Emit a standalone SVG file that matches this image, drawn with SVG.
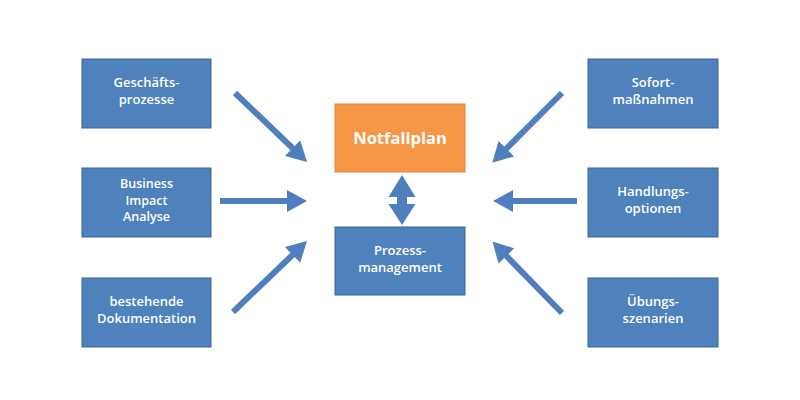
<svg xmlns="http://www.w3.org/2000/svg" width="800" height="400" viewBox="0 0 800 400">
<style>
.box{fill:#4f81bd;stroke:#3b6496;stroke-width:1}
.orange{fill:#f79646;stroke:#e9873a;stroke-width:1}
.t{font-family:"Open Sans","Noto Sans","Liberation Sans",sans-serif;font-weight:600;font-size:13px;fill:#ffffff;text-anchor:middle}
.t3{font-size:12.5px}
.big{font-family:"Open Sans","Noto Sans","Liberation Sans",sans-serif;font-weight:700;font-size:16.5px;fill:#ffffff;text-anchor:middle}
.arr{stroke:#4f7fbf;stroke-width:6;fill:none;marker-end:url(#head)}
</style>
<defs>
<marker id="head" viewBox="0 0 20 22" refX="2" refY="11" markerWidth="20" markerHeight="22" markerUnits="userSpaceOnUse" orient="auto">
<path d="M0,0 L20,11 L0,22 z" fill="#4f7fbf"/>
</marker>
</defs>
<rect width="800" height="400" fill="#ffffff"/>
<g id="connectors">
<line class="arr" x1="235" y1="93" x2="294" y2="149.5"/>
<line class="arr" x1="220" y1="201" x2="289" y2="201"/>
<line class="arr" x1="233" y1="312" x2="294" y2="253.5"/>
<line class="arr" x1="562" y1="93" x2="505" y2="150"/>
<line class="arr" x1="577" y1="201" x2="511" y2="201"/>
<line class="arr" x1="562" y1="313" x2="505" y2="254.5"/>
<polygon points="402,175 415.5,197 407,197 407,204 415.5,204 402,225 388.5,204 397,204 397,197 388.5,197" fill="#4f7fbf"/>
</g>
<g id="geschaeftsprozesse">
<rect class="box" x="82" y="59" width="129" height="69"/>
<text class="t" x="146.5" y="87">Geschäfts-</text>
<text class="t" x="146.5" y="104">prozesse</text>
</g>
<g id="bia">
<rect class="box" x="82" y="168" width="129" height="69"/>
<text class="t t3" x="146.5" y="188">Business</text>
<text class="t t3" x="146.5" y="204.5">Impact</text>
<text class="t t3" x="146.5" y="221">Analyse</text>
</g>
<g id="dokumentation">
<rect class="box" x="82" y="278" width="129" height="69"/>
<text class="t" x="146.5" y="306">bestehende</text>
<text class="t" x="146.5" y="323">Dokumentation</text>
</g>
<g id="notfallplan">
<rect class="orange" x="335" y="104" width="130" height="68"/>
<text class="big" x="400" y="143.5">Notfallplan</text>
</g>
<g id="prozessmanagement">
<rect class="box" x="335" y="227" width="130" height="68"/>
<text class="t" x="400" y="255">Prozess-</text>
<text class="t" x="400" y="272">management</text>
</g>
<g id="sofortmassnahmen">
<rect class="box" x="588" y="59" width="130" height="69"/>
<text class="t" x="653" y="87">Sofort-</text>
<text class="t" x="653" y="104">maßnahmen</text>
</g>
<g id="handlungsoptionen">
<rect class="box" x="588" y="168" width="130" height="69"/>
<text class="t" x="653" y="196">Handlungs-</text>
<text class="t" x="653" y="213">optionen</text>
</g>
<g id="uebungsszenarien">
<rect class="box" x="588" y="278" width="130" height="69"/>
<text class="t" x="653" y="306">Übungs-</text>
<text class="t" x="653" y="323">szenarien</text>
</g>
</svg>
